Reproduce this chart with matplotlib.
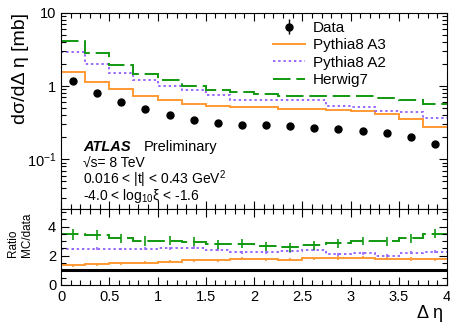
import numpy as np
import matplotlib
matplotlib.use('Agg')
import matplotlib.pyplot as plt
from matplotlib.lines import Line2D
from matplotlib.ticker import MultipleLocator, NullFormatter

plt.rcParams['font.family'] = ['Liberation Sans', 'DejaVu Sans']
plt.rcParams['mathtext.fontset'] = 'custom'
plt.rcParams['mathtext.rm'] = 'Liberation Sans'
plt.rcParams['mathtext.it'] = 'Liberation Sans:italic'
plt.rcParams['mathtext.bf'] = 'Liberation Sans:bold'

# delta eta binning
bin_edges = [0.0, 0.25, 0.5, 0.75, 1.0, 1.25, 1.5, 1.75, 2.0,
             2.25, 2.5, 2.75, 3.0, 3.25, 3.5, 3.75, 4.0]

# d sigma / d delta eta [mb]
data_xsec = [1.17, 0.81, 0.605, 0.485, 0.40, 0.34, 0.316, 0.29,
             0.29, 0.282, 0.27, 0.257, 0.243, 0.228, 0.20, 0.16]
data_err = [0.06, 0.04, 0.03, 0.025, 0.02, 0.017, 0.016, 0.015,
            0.015, 0.014, 0.014, 0.013, 0.012, 0.012, 0.011, 0.01]
pythia_a3 = [1.57, 1.14, 0.90, 0.74, 0.64, 0.57, 0.535, 0.525,
             0.51, 0.49, 0.49, 0.475, 0.456, 0.41, 0.355, 0.28]
pythia_a2 = [2.88, 2.0, 1.49, 1.21, 1.0, 0.87, 0.76, 0.65,
             0.65, 0.65, 0.65, 0.54, 0.525, 0.46, 0.44, 0.363]
herwig7 = [4.07, 2.79, 1.93, 1.46, 1.21, 1.01, 0.88, 0.82,
           0.77, 0.73, 0.73, 0.73, 0.73, 0.68, 0.64, 0.56]

# uncertainties on MC/data
a3_ratio_err = [0.12, 0.12, 0.12, 0.12, 0.12, 0.12, 0.12, 0.12,
                0.12, 0.12, 0.12, 0.12, 0.12, 0.12, 0.12, 0.12]
a2_ratio_err = [0.1, 0.1, 0.1, 0.1, 0.1, 0.1, 0.1, 0.1,
                0.1, 0.1, 0.1, 0.1, 0.1, 0.1, 0.1, 0.1]
herwig_ratio_err = [0.38, 0.35, 0.33, 0.32, 0.32, 0.3, 0.3, 0.3,
                    0.3, 0.3, 0.3, 0.3, 0.3, 0.3, 0.3, 0.3]

orange = '#ff9933'
purple = '#9966ff'
green = '#119911'

edges = np.array(bin_edges)
centers = 0.5 * (edges[:-1] + edges[1:])
data = np.array(data_xsec)

models = [
    ('Pythia8 A3', pythia_a3, a3_ratio_err, orange, '-'),
    ('Pythia8 A2', pythia_a2, a2_ratio_err, purple, (0, (1.2, 1.5))),
    ('Herwig7', herwig7, herwig_ratio_err, green, (0, (9, 3))),
]

W, H = 450, 326
fig = plt.figure(figsize=(W / 100, H / 100), dpi=100)

left, right = 61, 447
top_y, mid_y, bot_y = 12.7, 209, 285
ax = fig.add_axes([left / W, 1 - mid_y / H, (right - left) / W, (mid_y - top_y) / H])
ax_r = fig.add_axes([left / W, 1 - bot_y / H, (right - left) / W, (bot_y - mid_y) / H], sharex=ax)

# main panel
ax.errorbar(centers, data, yerr=data_err, fmt='o', color='black', ms=5,
            elinewidth=1, capsize=0, zorder=5)
for name, vals, _, col, ls in models:
    ax.stairs(vals, edges, color=col, linestyle=ls, linewidth=1.4, baseline=None)

ax.set_yscale('log')
ax.set_ylim(0.021, 10)
ax.set_xlim(0, 4)
ax.set_yticks([0.1, 1, 10])
ax.set_yticklabels(['$10^{-1}$', '1', '10'])
ax.yaxis.set_minor_formatter(NullFormatter())
ax.tick_params(labelbottom=False)

handles = [
    ax.errorbar([], [], yerr=[], fmt='o', color='black', ms=5, elinewidth=1),
]
for name, vals, _, col, ls in models:
    handles.append(Line2D([], [], color=col, linestyle=ls, linewidth=1.4))
ax.legend(handles, ['Data'] + [m[0] for m in models], loc='upper left',
          bbox_to_anchor=(273 / W, 1 - 21 / H), bbox_transform=fig.transFigure,
          frameon=False, fontsize=11, handlelength=2.1, handletextpad=0.5,
          labelspacing=0.22, borderpad=0, borderaxespad=0)

ax.text(0.057, 0.2955, 'ATLAS', transform=ax.transAxes, fontsize=10.5,
        fontweight='bold', fontstyle='italic', va='baseline')
ax.text(0.215, 0.2955, 'Preliminary', transform=ax.transAxes, fontsize=10.5,
        va='baseline')
info = '√s= 8 TeV\n0.016 < |t| < 0.43 GeV$^{2}$\n-4.0 < log$_{10}$ξ < -1.6'
ax.text(0.057, 0.265, info, transform=ax.transAxes, fontsize=10,
        va='top', ha='left', linespacing=0.82)

# ratio panel
for name, vals, err, col, ls in models:
    ratio = np.array(vals) / data
    ax_r.stairs(ratio, edges, color=col, linestyle=ls, linewidth=1.4, baseline=None)
    ax_r.errorbar(centers, ratio, yerr=err, fmt='none', ecolor=col,
                  elinewidth=1.2, capsize=0)
ax_r.axhline(1, color='black', linewidth=2.2)
ax_r.set_ylim(0, 5.2)
ax_r.set_yticks([0, 2, 4])
ax_r.yaxis.set_minor_locator(MultipleLocator(0.5))
ax_r.xaxis.set_major_locator(MultipleLocator(0.5))
ax_r.xaxis.set_minor_locator(MultipleLocator(0.1))
ax_r.set_xticks([0, 0.5, 1, 1.5, 2, 2.5, 3, 3.5, 4])
ax_r.set_xticklabels(['0', '0.5', '1', '1.5', '2', '2.5', '3', '3.5', '4'])

for a in (ax, ax_r):
    a.tick_params(which='both', direction='in', top=True, right=True,
                  labelsize=10.5, width=0.8)
    a.tick_params(which='major', length=6)
    a.tick_params(which='minor', length=3.3)
    for s in a.spines.values():
        s.set_linewidth(0.8)

fig.text(21 / W, 1 - 13 / H, 'dσ/dΔ η [mb]', rotation=90, ha='center',
         va='top', fontsize=14)
fig.text(443 / W, 1 - 313 / H, 'Δ η', ha='right', va='center', fontsize=13)
fig.text(20 / W, 1 - 257 / H, 'Ratio\nMC/data', rotation=90, ha='center',
         va='bottom', multialignment='left', fontsize=8.5, linespacing=1.3)

fig.savefig('out.png', dpi=100)
